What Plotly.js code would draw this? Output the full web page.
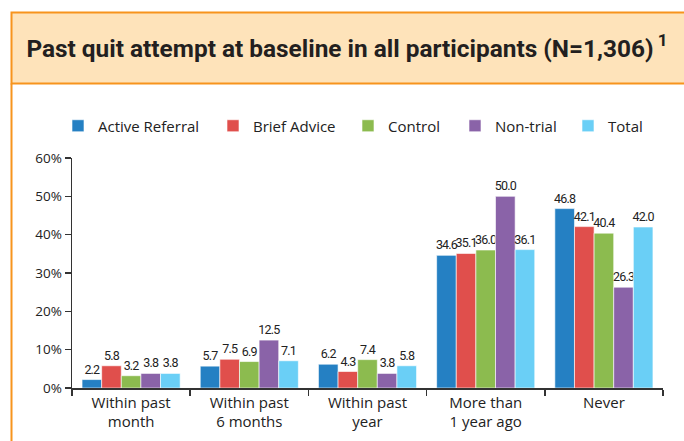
<!DOCTYPE html>
<html>
<head>
<meta charset="utf-8">
<script src="https://cdn.plot.ly/plotly-3.0.1.min.js"></script>
<style>
html,body{margin:0;padding:0;background:#fff;}
#chart{width:684px;height:441px;}
#chart .bartext{letter-spacing:-0.8px;}
</style>
</head>
<body>
<div id="chart"></div>
<script>
// Data
const categories = ["Within past<br>month", "Within past<br>6 months", "Within past<br>year", "More than<br>1 year ago", "Never"];
const seriesNames = ["Active Referral", "Brief Advice", "Control", "Non-trial", "Total"];
const activeReferral = [2.2, 5.7, 6.2, 34.6, 46.8];
const briefAdvice = [5.8, 7.5, 4.3, 35.1, 42.1];
const control = [3.2, 6.9, 7.4, 36.0, 40.4];
const nonTrial = [3.8, 12.5, 3.8, 50.0, 26.3];
const total = [3.8, 7.1, 5.8, 36.1, 42.0];
const yTickVals = [0, 10, 20, 30, 40, 50, 60];
const yTickText = ["0%", "10%", "20%", "30%", "40%", "50%", "60%"];

const colors = ["#2580C3", "#E04F4C", "#8CBB4F", "#8A63A8", "#6ACFF6"];
const seriesValues = [activeReferral, briefAdvice, control, nonTrial, total];
const legendIds = ["legend", "legend2", "legend3", "legend4", "legend5"];
// left edge (px) of each legend swatch
const legendSwatchX = [72, 227, 362, 469, 582];

const narrow = "Roboto, sans-serif";

const traces = seriesValues.map((vals, i) => ({
  type: "bar",
  name: seriesNames[i],
  legend: legendIds[i],
  x: categories,
  y: vals,
  text: vals.map(v => v.toFixed(1)),
  textposition: "outside",
  constraintext: "none",
  cliponaxis: false,
  textfont: {family: narrow, size: 12.5, color: "#222"},
  marker: {color: colors[i], line: {color: "#ffffff", width: 0.6}},
  hoverinfo: "skip"
}));

// plot area in pixels: x 72..663, y 158..388
const L = 72, R = 663, T = 158, B = 388;
const px = x => (x - L) / (R - L);
const py = y => (B - y) / (B - T);
const orange = "#F7941D";

const layout = {
  width: 684, height: 441,
  margin: {l: L, r: 684 - R, t: T, b: 441 - B, pad: 0},
  paper_bgcolor: "#ffffff",
  plot_bgcolor: "rgba(0,0,0,0)",
  font: {family: "Open Sans, sans-serif", color: "#222"},
  barmode: "group",
  bargap: 0.17,
  bargroupgap: 0,
  showlegend: true,
  title: {
    text: "<b>Past quit attempt at baseline in all participants (N=1,306)</b><sup> <b>1</b></sup>",
    font: {family: "Roboto, sans-serif", size: 24.4, color: "#231F20"},
    xref: "container", x: 347 / 684, xanchor: "center",
    yref: "container", y: 1 - 48 / 441, yanchor: "middle"
  },
  xaxis: {
    showline: true, linecolor: "#333", linewidth: 1.5,
    ticks: "outside", ticklen: 6, tickcolor: "#333", tickwidth: 1.5,
    tickson: "boundaries",
    tickfont: {family: "Open Sans, sans-serif", size: 15, color: "#222"},
    showgrid: false, zeroline: false, fixedrange: true
  },
  yaxis: {
    range: [0, 60],
    tickvals: yTickVals, ticktext: yTickText,
    showline: true, linecolor: "#333", linewidth: 1.5,
    ticks: "outside", ticklen: 6, tickcolor: "#333", tickwidth: 1.5,
    tickfont: {family: "Open Sans, sans-serif", size: 13.5, color: "#222"},
    showgrid: false, zeroline: false, fixedrange: true
  },
  shapes: [
    {type: "rect", xref: "paper", yref: "paper", x0: px(11.5), x1: px(700), y0: py(83.5), y1: py(12.5),
     fillcolor: "#FEE3BA", line: {color: orange, width: 2}, layer: "below"},
    {type: "line", xref: "paper", yref: "paper", x0: px(11.5), x1: px(11.5), y0: py(83.5), y1: py(450),
     line: {color: orange, width: 2}, layer: "below"}
  ]
};

legendIds.forEach((id, i) => {
  layout[id] = {
    orientation: "h",
    x: px(legendSwatchX[i] - 14), xanchor: "left",
    y: py(126), yanchor: "middle",
    font: {family: "Open Sans, sans-serif", size: 15, color: "#222"},
    itemclick: false, itemdoubleclick: false,
    bgcolor: "rgba(0,0,0,0)"
  };
});

Plotly.newPlot("chart", traces, layout, {displayModeBar: false, staticPlot: true});
</script>
</body>
</html>
